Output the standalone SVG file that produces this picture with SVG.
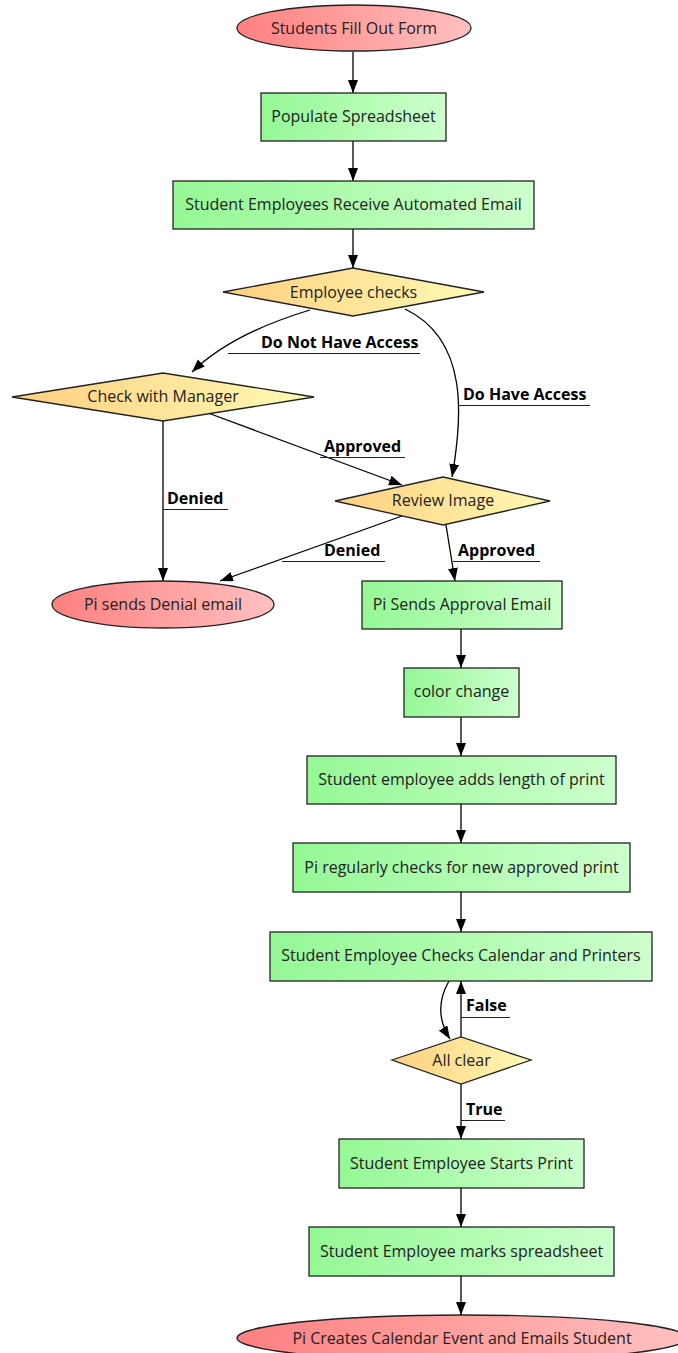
<svg xmlns="http://www.w3.org/2000/svg" width="678" height="1353" viewBox="0 0 678 1353">
<defs>
<linearGradient id="gRed" x1="0" y1="0" x2="1" y2="0"><stop offset="0" stop-color="#ff8080"/><stop offset="1" stop-color="#ffc0c0"/></linearGradient>
<linearGradient id="gGreen" x1="0" y1="0" x2="1" y2="0"><stop offset="0" stop-color="#94f894"/><stop offset="1" stop-color="#cdffcd"/></linearGradient>
<linearGradient id="gYellow" x1="0" y1="0" x2="1" y2="0"><stop offset="0" stop-color="#ffcf80"/><stop offset="1" stop-color="#fffab4"/></linearGradient>
<marker id="arr" markerUnits="userSpaceOnUse" markerWidth="14" markerHeight="12" refX="13" refY="5" orient="auto"><path d="M0,0 L13,5 L0,10 z" fill="#000"/></marker>
<style>
.n{stroke:#222;stroke-width:1.3}
.t{font-family:"Open Sans","Noto Sans",sans-serif;font-size:16px;fill:#222;text-anchor:middle}
.l{font-family:"Open Sans","Noto Sans",sans-serif;font-size:16px;font-weight:bold;fill:#000}
.e{fill:none;stroke:#000;stroke-width:1.3}
.u{stroke:#222;stroke-width:1}
</style>
</defs>
<rect width="678" height="1353" fill="#fff"/>
<g id="connectors">
<path class="e" d="M353,52 L353,93" marker-end="url(#arr)"/>
<path class="e" d="M353,141 L353,181" marker-end="url(#arr)"/>
<path class="e" d="M353,229 L353,268" marker-end="url(#arr)"/>
<path class="e" d="M310,310 C260,325 220,345 192,372" marker-end="url(#arr)"/>
<path class="e" d="M405,309 C470,340 462,420 452,477" marker-end="url(#arr)"/>
<path class="e" d="M208,413 L402,485" marker-end="url(#arr)"/>
<path class="e" d="M163,421 L163,581" marker-end="url(#arr)"/>
<path class="e" d="M402,516 L220,581" marker-end="url(#arr)"/>
<path class="e" d="M446,525 L455,581" marker-end="url(#arr)"/>
<path class="e" d="M461,629 L461,668" marker-end="url(#arr)"/>
<path class="e" d="M461,717 L461,756" marker-end="url(#arr)"/>
<path class="e" d="M461,804 L461,843" marker-end="url(#arr)"/>
<path class="e" d="M461,892 L461,932" marker-end="url(#arr)"/>
<path class="e" d="M449,981 C438,1000 438,1020 450,1039" marker-end="url(#arr)"/>
<path class="e" d="M461,1037 L461,981" marker-end="url(#arr)"/>
<path class="e" d="M461,1084 L461,1139" marker-end="url(#arr)"/>
<path class="e" d="M461,1188 L461,1227" marker-end="url(#arr)"/>
<path class="e" d="M461,1276 L461,1315" marker-end="url(#arr)"/>
<text class="l" x="261" y="348">Do Not Have Access</text><line class="u" x1="228" y1="353.5" x2="420" y2="353.5"/>
<text class="l" x="463" y="400">Do Have Access</text><line class="u" x1="458" y1="405.5" x2="590" y2="405.5"/>
<text class="l" x="324" y="452">Approved</text><line class="u" x1="320" y1="457.5" x2="405" y2="457.5"/>
<text class="l" x="167" y="504">Denied</text><line class="u" x1="163" y1="509.5" x2="228" y2="509.5"/>
<text class="l" x="324" y="556">Denied</text><line class="u" x1="282" y1="561.5" x2="385" y2="561.5"/>
<text class="l" x="458" y="556">Approved</text><line class="u" x1="453" y1="561.5" x2="540" y2="561.5"/>
<text class="l" x="466" y="1011">False</text><line class="u" x1="461" y1="1017.5" x2="510" y2="1017.5"/>
<text class="l" x="466" y="1115">True</text><line class="u" x1="461" y1="1120.5" x2="505" y2="1120.5"/>
</g>
<g id="n1"><ellipse class="n" cx="354" cy="28" rx="117" ry="23" fill="url(#gRed)"/><text class="t" x="354" y="34">Students Fill Out Form</text></g>
<g id="n2"><rect class="n" x="261" y="93" width="185" height="48" fill="url(#gGreen)"/><text class="t" x="353.5" y="122">Populate Spreadsheet</text></g>
<g id="n3"><rect class="n" x="173" y="181" width="361" height="48" fill="url(#gGreen)"/><text class="t" x="353.5" y="210">Student Employees Receive Automated Email</text></g>
<g id="n4"><polygon class="n" points="223,292 353,268 484,292 353,316" fill="url(#gYellow)"/><text class="t" x="353.5" y="298">Employee checks</text></g>
<g id="n5"><polygon class="n" points="12,397 163,373 314,397 163,421" fill="url(#gYellow)"/><text class="t" x="163" y="402">Check with Manager</text></g>
<g id="n6"><polygon class="n" points="335,501 443,477 550,501 443,525" fill="url(#gYellow)"/><text class="t" x="443" y="506">Review Image</text></g>
<g id="n7"><ellipse class="n" cx="163" cy="604.5" rx="111" ry="23.5" fill="url(#gRed)"/><text class="t" x="163" y="610">Pi sends Denial email</text></g>
<g id="n8"><rect class="n" x="362" y="581" width="200" height="48" fill="url(#gGreen)"/><text class="t" x="462" y="610">Pi Sends Approval Email</text></g>
<g id="n9"><rect class="n" x="404" y="668" width="115" height="49" fill="url(#gGreen)"/><text class="t" x="461.5" y="697">color change</text></g>
<g id="n10"><rect class="n" x="307" y="756" width="309" height="48" fill="url(#gGreen)"/><text class="t" x="461.5" y="785">Student employee adds length of print</text></g>
<g id="n11"><rect class="n" x="293" y="843" width="337" height="49" fill="url(#gGreen)"/><text class="t" x="461.5" y="873">Pi regularly checks for new approved print</text></g>
<g id="n12"><rect class="n" x="270" y="932" width="382" height="49" fill="url(#gGreen)"/><text class="t" x="461" y="961">Student Employee Checks Calendar and Printers</text></g>
<g id="n13"><polygon class="n" points="392,1060 461,1037 531,1060 461,1084" fill="url(#gYellow)"/><text class="t" x="461.5" y="1066">All clear</text></g>
<g id="n14"><rect class="n" x="339" y="1139" width="245" height="49" fill="url(#gGreen)"/><text class="t" x="461.5" y="1169">Student Employee Starts Print</text></g>
<g id="n15"><rect class="n" x="309" y="1227" width="305" height="49" fill="url(#gGreen)"/><text class="t" x="461.5" y="1257">Student Employee marks spreadsheet</text></g>
<g id="n16"><ellipse class="n" cx="462" cy="1338" rx="225" ry="23" fill="url(#gRed)"/><text class="t" x="462" y="1344">Pi Creates Calendar Event and Emails Student</text></g>
</svg>
